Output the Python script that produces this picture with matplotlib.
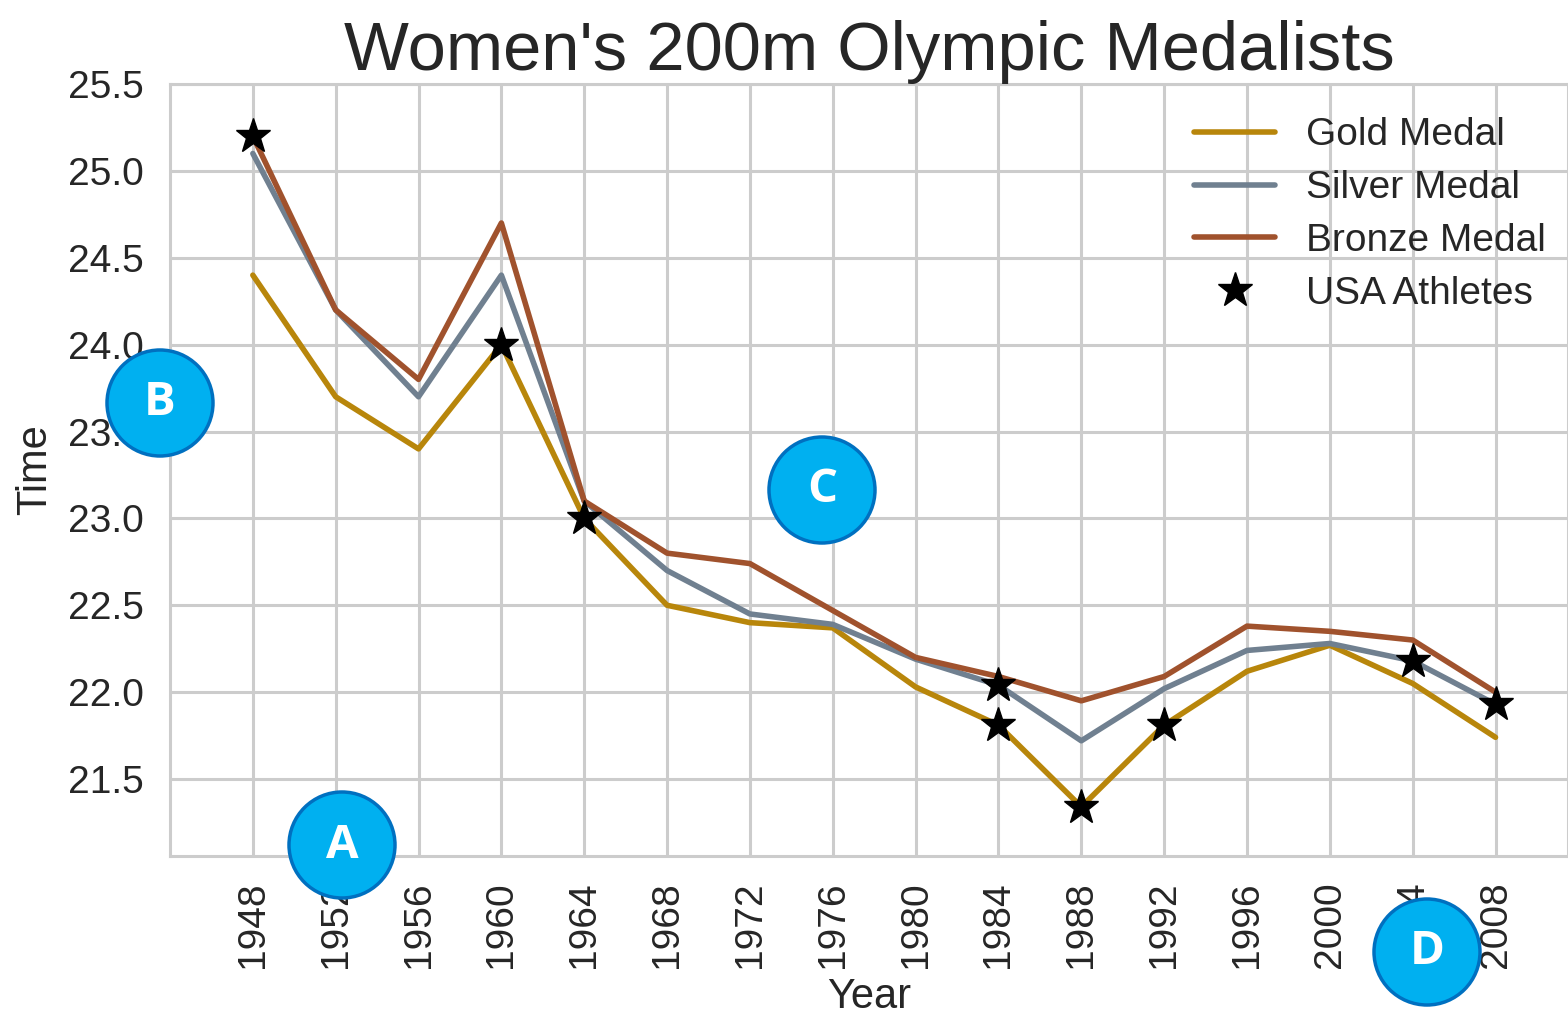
import matplotlib
matplotlib.use('Agg')
import matplotlib.pyplot as plt
from matplotlib.patches import Ellipse

years = [1948, 1952, 1956, 1960, 1964, 1968, 1972, 1976,
         1980, 1984, 1988, 1992, 1996, 2000, 2004, 2008]
gold = [24.4, 23.7, 23.4, 24.0, 23.0, 22.5, 22.40, 22.37,
        22.03, 21.81, 21.34, 21.81, 22.12, 22.27, 22.05, 21.74]
silver = [25.1, 24.2, 23.7, 24.4, 23.1, 22.7, 22.45, 22.39,
          22.19, 22.04, 21.72, 22.02, 22.24, 22.28, 22.18, 21.93]
bronze = [25.2, 24.2, 23.8, 24.7, 23.1, 22.8, 22.74, 22.47,
          22.20, 22.09, 21.95, 22.09, 22.38, 22.35, 22.30, 22.00]
usa_years = [1948, 1960, 1964, 1984, 1984, 1988, 1992, 2004, 2008]
usa_times = [25.2, 24.0, 23.0, 21.81, 22.04, 21.34, 21.81, 22.18, 21.93]

# callout circles (label, x px, y px) on the figure
callouts = [('A', 342, 845), ('B', 160, 403), ('C', 822, 490), ('D', 1427, 952)]

W, H = 1568, 1018
plt.rcParams['font.family'] = ['Liberation Sans', 'DejaVu Sans']
plt.rcParams['text.color'] = '#262626'
plt.rcParams['axes.labelcolor'] = '#262626'
plt.rcParams['xtick.color'] = '#262626'
plt.rcParams['ytick.color'] = '#262626'
plt.rcParams['lines.solid_capstyle'] = 'round'

fig = plt.figure(figsize=(W / 100, H / 100), dpi=100)
ax = fig.add_axes([170 / W, 1 - 856 / H, 1 - 170 / W, (856 - 84) / H])

ax.plot(years, gold, color='darkgoldenrod', lw=4, label='Gold Medal')
ax.plot(years, silver, color='slategray', lw=4, label='Silver Medal')
ax.plot(years, bronze, color='sienna', lw=4, label='Bronze Medal')
ax.plot(usa_years, usa_times, '*', color='black', ms=26, label='USA Athletes')

ax.set_xlim(1944, 2011.5)
ax.set_ylim(21.057, 25.5)
ax.set_xticks(years)
ax.set_xticklabels([str(y) for y in years], rotation=90)
ax.set_yticks([21.5, 22.0, 22.5, 23.0, 23.5, 24.0, 24.5, 25.0, 25.5])
ax.set_yticklabels(['21.5', '22.0', '22.5', '23.0', '23.5', '24.0', '24.5', '25.0', '25.5'])
ax.tick_params(labelsize=28, length=0)
ax.tick_params(axis='x', pad=18)
ax.tick_params(axis='y', pad=19)
ax.grid(True, color='#cccccc', lw=2.2)
ax.set_axisbelow(True)
for s in ax.spines.values():
    s.set_color('#cccccc')
    s.set_linewidth(2.2)

ax.set_xlabel('Year', fontsize=30, labelpad=7)
ax.set_ylabel('Time', fontsize=30, labelpad=9)
ax.set_title("Women's 200m Olympic Medalists", fontsize=49.5, pad=4)

ax.legend(loc='upper right', frameon=False, fontsize=28, handlelength=2.1,
          labelspacing=0.43, borderaxespad=0.3, bbox_to_anchor=(1.004, 0.992))

for letter, cx, cy in callouts:
    fig.add_artist(Ellipse((cx / W, 1 - cy / H), 106 / W, 106 / H,
                           transform=fig.transFigure, facecolor='#00b0f0',
                           edgecolor='#0070c0', lw=2.5, zorder=10))
    fig.text(cx / W, 1 - cy / H, letter, ha='center', va='center',
             color='white', fontsize=34, fontweight='bold',
             family=['Open Sans', 'DejaVu Sans'], zorder=11)

fig.savefig('out.png', dpi=100)
